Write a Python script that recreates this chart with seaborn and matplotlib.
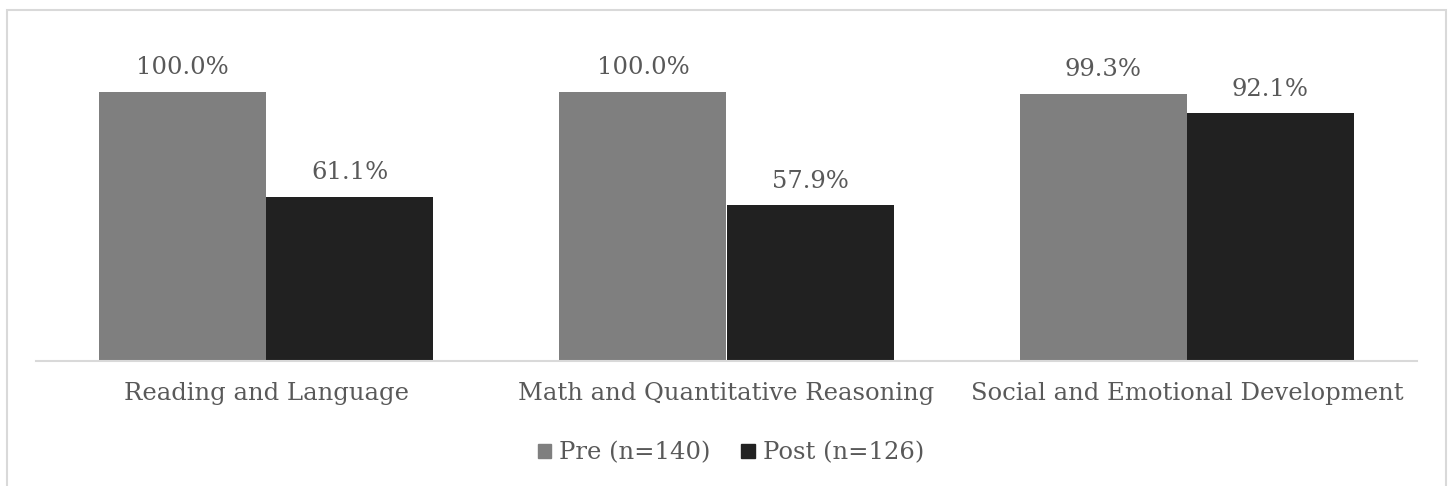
import matplotlib
matplotlib.use("Agg")
import matplotlib.pyplot as plt
import matplotlib.patches as mpatches
import pandas as pd
import seaborn as sns

# chart data
categories = ["Reading and Language", "Math and Quantitative Reasoning",
              "Social and Emotional Development"]
series = ["Pre (n=140)", "Post (n=126)"]
pre_values = [1.000, 1.000, 0.993]
post_values = [0.611, 0.579, 0.921]

df = pd.DataFrame({
    "category": categories * 2,
    "group": [series[0]] * 3 + [series[1]] * 3,
    "value": pre_values + post_values,
})

sns.set_theme(style="white")
plt.rcParams["font.family"] = ["DejaVu Serif"]
text_color = "#595959"
colors = ["#7f7f7f", "#212121"]

W, H = 1450, 486
fig = plt.figure(figsize=(W / 100, H / 100), dpi=100)
ax = fig.add_axes([36 / W, 1 - 361 / H, (1417 - 36) / W, (361 - 38) / H])

sns.barplot(data=df, x="category", y="value", hue="group", palette=colors,
            width=0.726, saturation=1, errorbar=None, ax=ax, legend=False,
            linewidth=0)

ax.set_ylim(0, 1.2)
ax.set_xlim(-0.5, 2.5)
ax.set_yticks([])
ax.set_xlabel("")
ax.set_ylabel("")
for s in ["top", "right", "left"]:
    ax.spines[s].set_visible(False)
ax.spines["bottom"].set_color("#d9d9d9")
ax.spines["bottom"].set_linewidth(1.5)
ax.tick_params(axis="x", length=0, pad=15, labelsize=17.5, labelcolor=text_color)

for cont in ax.containers:
    ax.bar_label(cont, labels=[f"{v * 100:.1f}%" for v in cont.datavalues],
                 padding=9, fontsize=17.5, color=text_color)

handles = [mpatches.Patch(color=c, label=l) for c, l in zip(colors, series)]
fig.legend(handles=handles, loc="center", bbox_to_anchor=(731 / W, 1 - 453 / H),
           ncol=2, frameon=False, fontsize=17.5, labelcolor=text_color,
           handlelength=0.55, handleheight=0.55, handletextpad=0.35,
           columnspacing=1.25)

# light frame around the chart area
frame = mpatches.Rectangle((7 / W, -0.1), (1446 - 7) / W, 1.1 - 10 / H,
                           transform=fig.transFigure, fill=False,
                           edgecolor="#d9d9d9", linewidth=1.5, clip_on=False)
fig.patches.append(frame)

plt.savefig("out.png", dpi=100)
